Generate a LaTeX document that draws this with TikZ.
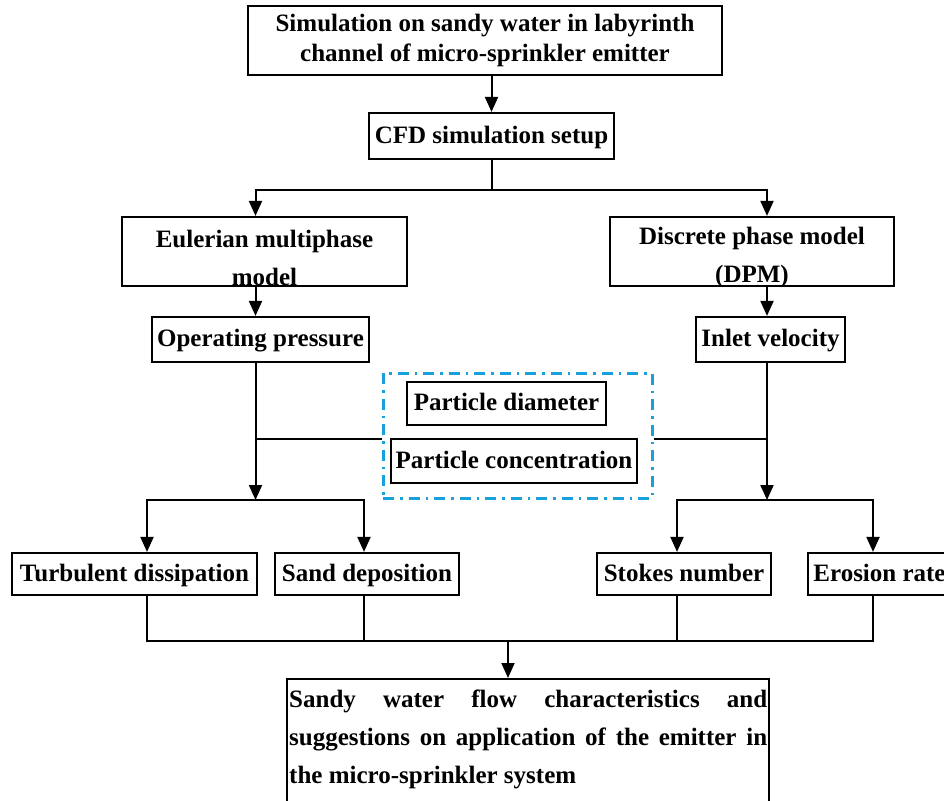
\documentclass[tikz,border=0pt]{standalone}
\usepackage{fontspec}
\setmainfont{Liberation Serif}
\usepackage{xcolor}
\usetikzlibrary{arrows.meta}
\definecolor{dashblue}{RGB}{24,160,220}

\begin{document}
\begin{tikzpicture}[x=1pt,y=-1pt,
   every node/.style={font=\fontsize{25}{30}\selectfont\bfseries, inner sep=0pt},
   box/.style={draw, line width=2.2pt},
   oneline/.style={box, text height=18pt, text depth=4pt},
   twoline/.style={align=center, font=\fontsize{25}{38}\selectfont\bfseries},
   arr/.style={line width=2pt, -{Triangle[length=15pt,width=13pt]}},
   conn/.style={line width=2pt},
   paramgroup/.style={draw=dashblue, line width=3pt, dash pattern=on 11pt off 6pt on 2.5pt off 6pt}]
   \useasboundingbox (0,0) rectangle (944,800);

   \node[box, minimum width=474pt, minimum height=69pt, align=center] (title) at (485,40.5) {Simulation on sandy water in labyrinth\\channel of micro-sprinkler emitter};
   \node[oneline, minimum width=245pt, minimum height=46pt] (cfd) at (491.5,136) {CFD simulation setup};

   \node[box, minimum width=285pt, minimum height=69pt] (euler) at (264.5,251.5) {};
   \node[twoline] (euler-text) at (264.5,257.5) {Eulerian multiphase\\model};
   \node[box, minimum width=284pt, minimum height=69pt] (dpm) at (752,251.5) {};
   \node[twoline] (dpm-text) at (752,257) {Discrete phase model\\(DPM)};

   \node[oneline, minimum width=217pt, minimum height=45pt] (oppress) at (260.5,339.5) {Operating pressure};
   \node[oneline, minimum width=149pt, minimum height=45pt] (inletvel) at (770.5,339.5) {Inlet velocity};

   \node[paramgroup, minimum width=269pt, minimum height=125pt] (params) at (517.5,435.5) {};
   \node[oneline, minimum width=199pt, minimum height=43pt] (pdiam) at (506.5,403.5) {Particle diameter};
   \node[oneline, minimum width=246pt, minimum height=44pt] (pconc) at (514,461) {Particle concentration};

   \node[oneline, minimum width=245pt, minimum height=42pt] (turb) at (134.5,574) {Turbulent dissipation};
   \node[oneline, minimum width=184pt, minimum height=42pt] (sand) at (367,574) {Sand deposition};
   \node[oneline, minimum width=174pt, minimum height=42pt] (stokes) at (684,574) {Stokes number};
   \node[oneline, minimum width=143pt, minimum height=42pt] (erosion) at (879.5,574) {Erosion rate};

   \node[box, minimum width=482pt, minimum height=140pt, anchor=north] (result) at (528,678) {};
   \node[text width=478pt, align=justify, font=\fontsize{25}{38}\selectfont\bfseries, anchor=north west] (result-text) at (289,689.5)
      {Sandy water flow characteristics and\linebreak suggestions on application of the emitter in\linebreak the micro-sprinkler system};

   \coordinate (split) at (491.5,190);
   \coordinate (lsplit) at (255.5,190);
   \coordinate (rsplit) at (767,190);
   \coordinate (ljoin) at (255.5,439);
   \coordinate (rjoin) at (767,439);
   \coordinate (lmerge) at (255.5,500);
   \coordinate (rmerge) at (767,500);
   \coordinate (turb-in) at (147,500);
   \coordinate (sand-in) at (364,500);
   \coordinate (stokes-in) at (677,500);
   \coordinate (eros-in) at (873,500);
   \coordinate (collect) at (508,641);

   \draw[arr] (cfd.north |- title.south) -- (cfd.north);
   \draw[conn] (cfd.south) -- (split);
   \draw[arr] (split) -- (lsplit) -- (lsplit |- euler.north);
   \draw[arr] (split) -- (rsplit) -- (rsplit |- dpm.north);
   \draw[arr] (lsplit |- euler.south) -- (lsplit |- oppress.north);
   \draw[arr] (rsplit |- dpm.south) -- (rsplit |- inletvel.north);

   \draw[arr] (lsplit |- oppress.south) -- (lmerge);
   \draw[arr] (rsplit |- inletvel.south) -- (rmerge);
   \draw[conn] (ljoin) -- (ljoin -| params.west);
   \draw[conn] (rjoin) -- (rjoin -| params.east);

   \draw[arr] (lmerge) -- (turb-in) -- (turb-in |- turb.north);
   \draw[arr] (lmerge) -- (sand-in) -- (sand-in |- sand.north);
   \draw[arr] (rmerge) -- (stokes-in) -- (stokes-in |- stokes.north);
   \draw[arr] (rmerge) -- (eros-in) -- (eros-in |- erosion.north);

   \draw[conn] (turb-in |- turb.south) -- (turb-in |- collect) -- (eros-in |- collect) -- (eros-in |- erosion.south);
   \draw[conn] (sand-in |- sand.south) -- (sand-in |- collect);
   \draw[conn] (stokes-in |- stokes.south) -- (stokes-in |- collect);
   \draw[arr] (collect) -- (collect |- result.north);
\end{tikzpicture}
\end{document}
